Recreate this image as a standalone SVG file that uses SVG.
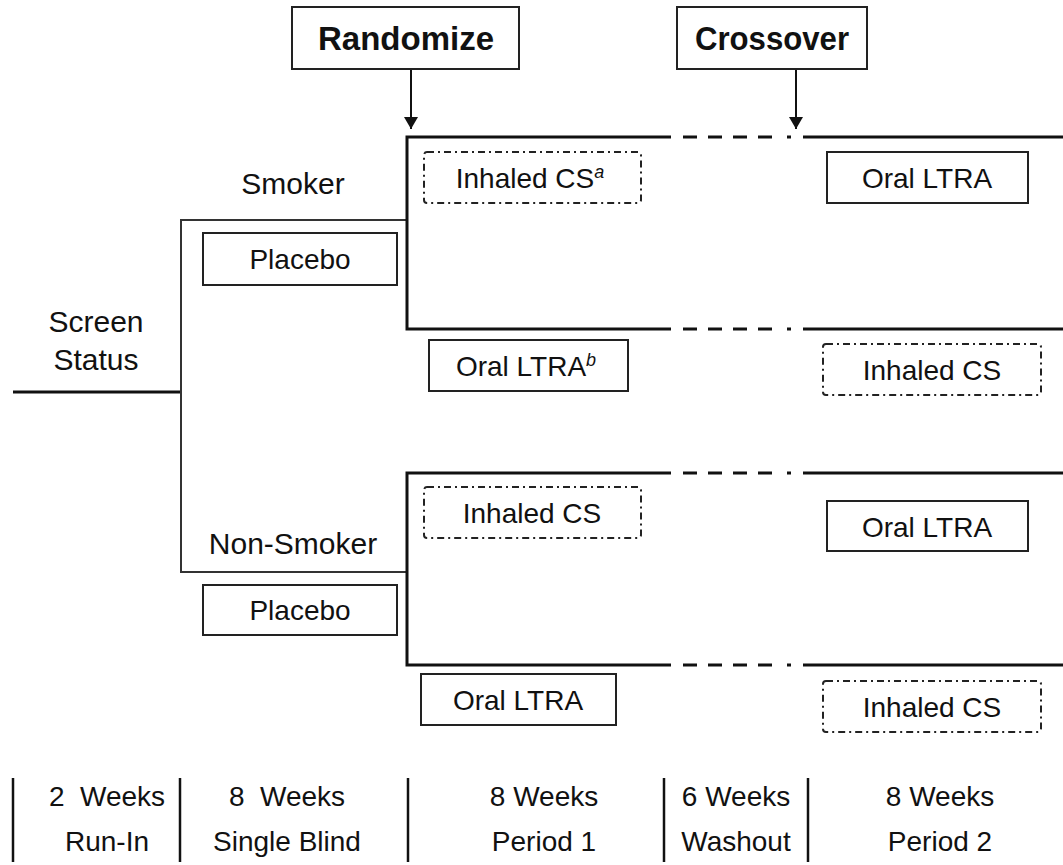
<svg xmlns="http://www.w3.org/2000/svg" width="1063" height="865" viewBox="0 0 1063 865">
<style>
text{font-family:"Liberation Sans",Arial,sans-serif;fill:#111;text-anchor:middle}
.t{font-size:28px}
.lab{font-size:30px}
.title{font-size:33px;font-weight:bold}
.box{fill:#fff;stroke:#222;stroke-width:2}
.dbox{fill:#fff;stroke:#222;stroke-width:2;stroke-dasharray:7 4 2 4}
.thin{fill:none;stroke:#333;stroke-width:2}
.thick{fill:none;stroke:#111;stroke-width:3}
.bar{stroke:#111;stroke-width:2.5}
.arr{stroke:#111;stroke-width:2;marker-end:url(#ah)}
</style>
<defs>
<marker id="ah" viewBox="0 0 12 14" refX="12" refY="7" markerWidth="12" markerHeight="14" orient="auto" markerUnits="userSpaceOnUse">
<path d="M0,0 L12,7 L0,14 Z" fill="#111"/>
</marker>
<path id="gap" class="thick" d="M683,0 H697 M708,0 H722 M733,0 H747 M758,0 H772 M787,0 H791"/>
</defs>
<g id="connectors">
<line class="arr" x1="411" y1="69" x2="411" y2="129"/>
<line class="arr" x1="796" y1="69" x2="796" y2="129"/>
<path class="thick" d="M13,392 H181"/>
<path class="thin" d="M407,220 H181 V572 H407"/>
<path class="thick" d="M671,137 H407 V329 H671"/>
<path class="thick" d="M803,137 H1063 M803,329 H1063"/>
<path class="thick" d="M671,473 H407 V665 H671"/>
<path class="thick" d="M803,473 H1063 M803,665 H1063"/>
<use href="#gap" y="137"/>
<use href="#gap" y="329"/>
<use href="#gap" y="473"/>
<use href="#gap" y="665"/>
</g>
<g id="randomize"><rect class="box" x="292" y="7" width="227" height="62"/><text class="title" x="406" y="50">Randomize</text></g>
<g id="crossover"><rect class="box" x="677" y="7" width="190" height="62"/><text class="title" x="772" y="50" textLength="154" lengthAdjust="spacingAndGlyphs">Crossover</text></g>
<g id="screen"><text class="lab" x="96" y="332">Screen</text><text class="lab" x="96" y="370">Status</text></g>
<g id="smoker"><text class="lab" x="293" y="194">Smoker</text></g>
<g id="nonsmoker"><text class="lab" x="293" y="554">Non-Smoker</text></g>
<g id="placebo1"><rect class="box" x="203" y="233" width="194" height="52"/><text class="t" x="300" y="269">Placebo</text></g>
<g id="placebo2"><rect class="box" x="203" y="585" width="194" height="50"/><text class="t" x="300" y="620">Placebo</text></g>
<g id="ics1"><rect class="dbox" x="424" y="152" width="217" height="51" rx="3"/><text class="t" x="530" y="188">Inhaled CS<tspan font-size="18" font-style="italic" dy="-10">a</tspan></text></g>
<g id="oral1b"><rect class="box" x="429" y="340" width="199" height="51"/><text class="t" x="526" y="376">Oral LTRA<tspan font-size="18" font-style="italic" dy="-10">b</tspan></text></g>
<g id="oral2"><rect class="box" x="827" y="152" width="201" height="51"/><text class="t" x="927" y="188">Oral LTRA</text></g>
<g id="ics2"><rect class="dbox" x="823" y="344" width="218" height="51" rx="3"/><text class="t" x="932" y="380">Inhaled CS</text></g>
<g id="ics3"><rect class="dbox" x="424" y="487" width="217" height="51" rx="3"/><text class="t" x="532" y="523">Inhaled CS</text></g>
<g id="oral3"><rect class="box" x="421" y="674" width="195" height="51"/><text class="t" x="518" y="710">Oral LTRA</text></g>
<g id="oral4"><rect class="box" x="827" y="501" width="201" height="50"/><text class="t" x="927" y="537">Oral LTRA</text></g>
<g id="ics4"><rect class="dbox" x="823" y="681" width="218" height="51" rx="3"/><text class="t" x="932" y="717">Inhaled CS</text></g>
<g id="timeline">
<line class="bar" x1="13" y1="778" x2="13" y2="862"/>
<line class="bar" x1="180" y1="778" x2="180" y2="862"/>
<line class="bar" x1="408" y1="778" x2="408" y2="862"/>
<line class="bar" x1="664" y1="778" x2="664" y2="862"/>
<line class="bar" x1="808" y1="778" x2="808" y2="862"/>
<text class="t" x="107" y="806" xml:space="preserve">2  Weeks</text><text class="t" x="107" y="851">Run-In</text>
<text class="t" x="287" y="806" xml:space="preserve">8  Weeks</text><text class="t" x="287" y="851">Single Blind</text>
<text class="t" x="544" y="806">8 Weeks</text><text class="t" x="544" y="851">Period 1</text>
<text class="t" x="736" y="806">6 Weeks</text><text class="t" x="736" y="851">Washout</text>
<text class="t" x="940" y="806">8 Weeks</text><text class="t" x="940" y="851">Period 2</text>
</g>
</svg>
